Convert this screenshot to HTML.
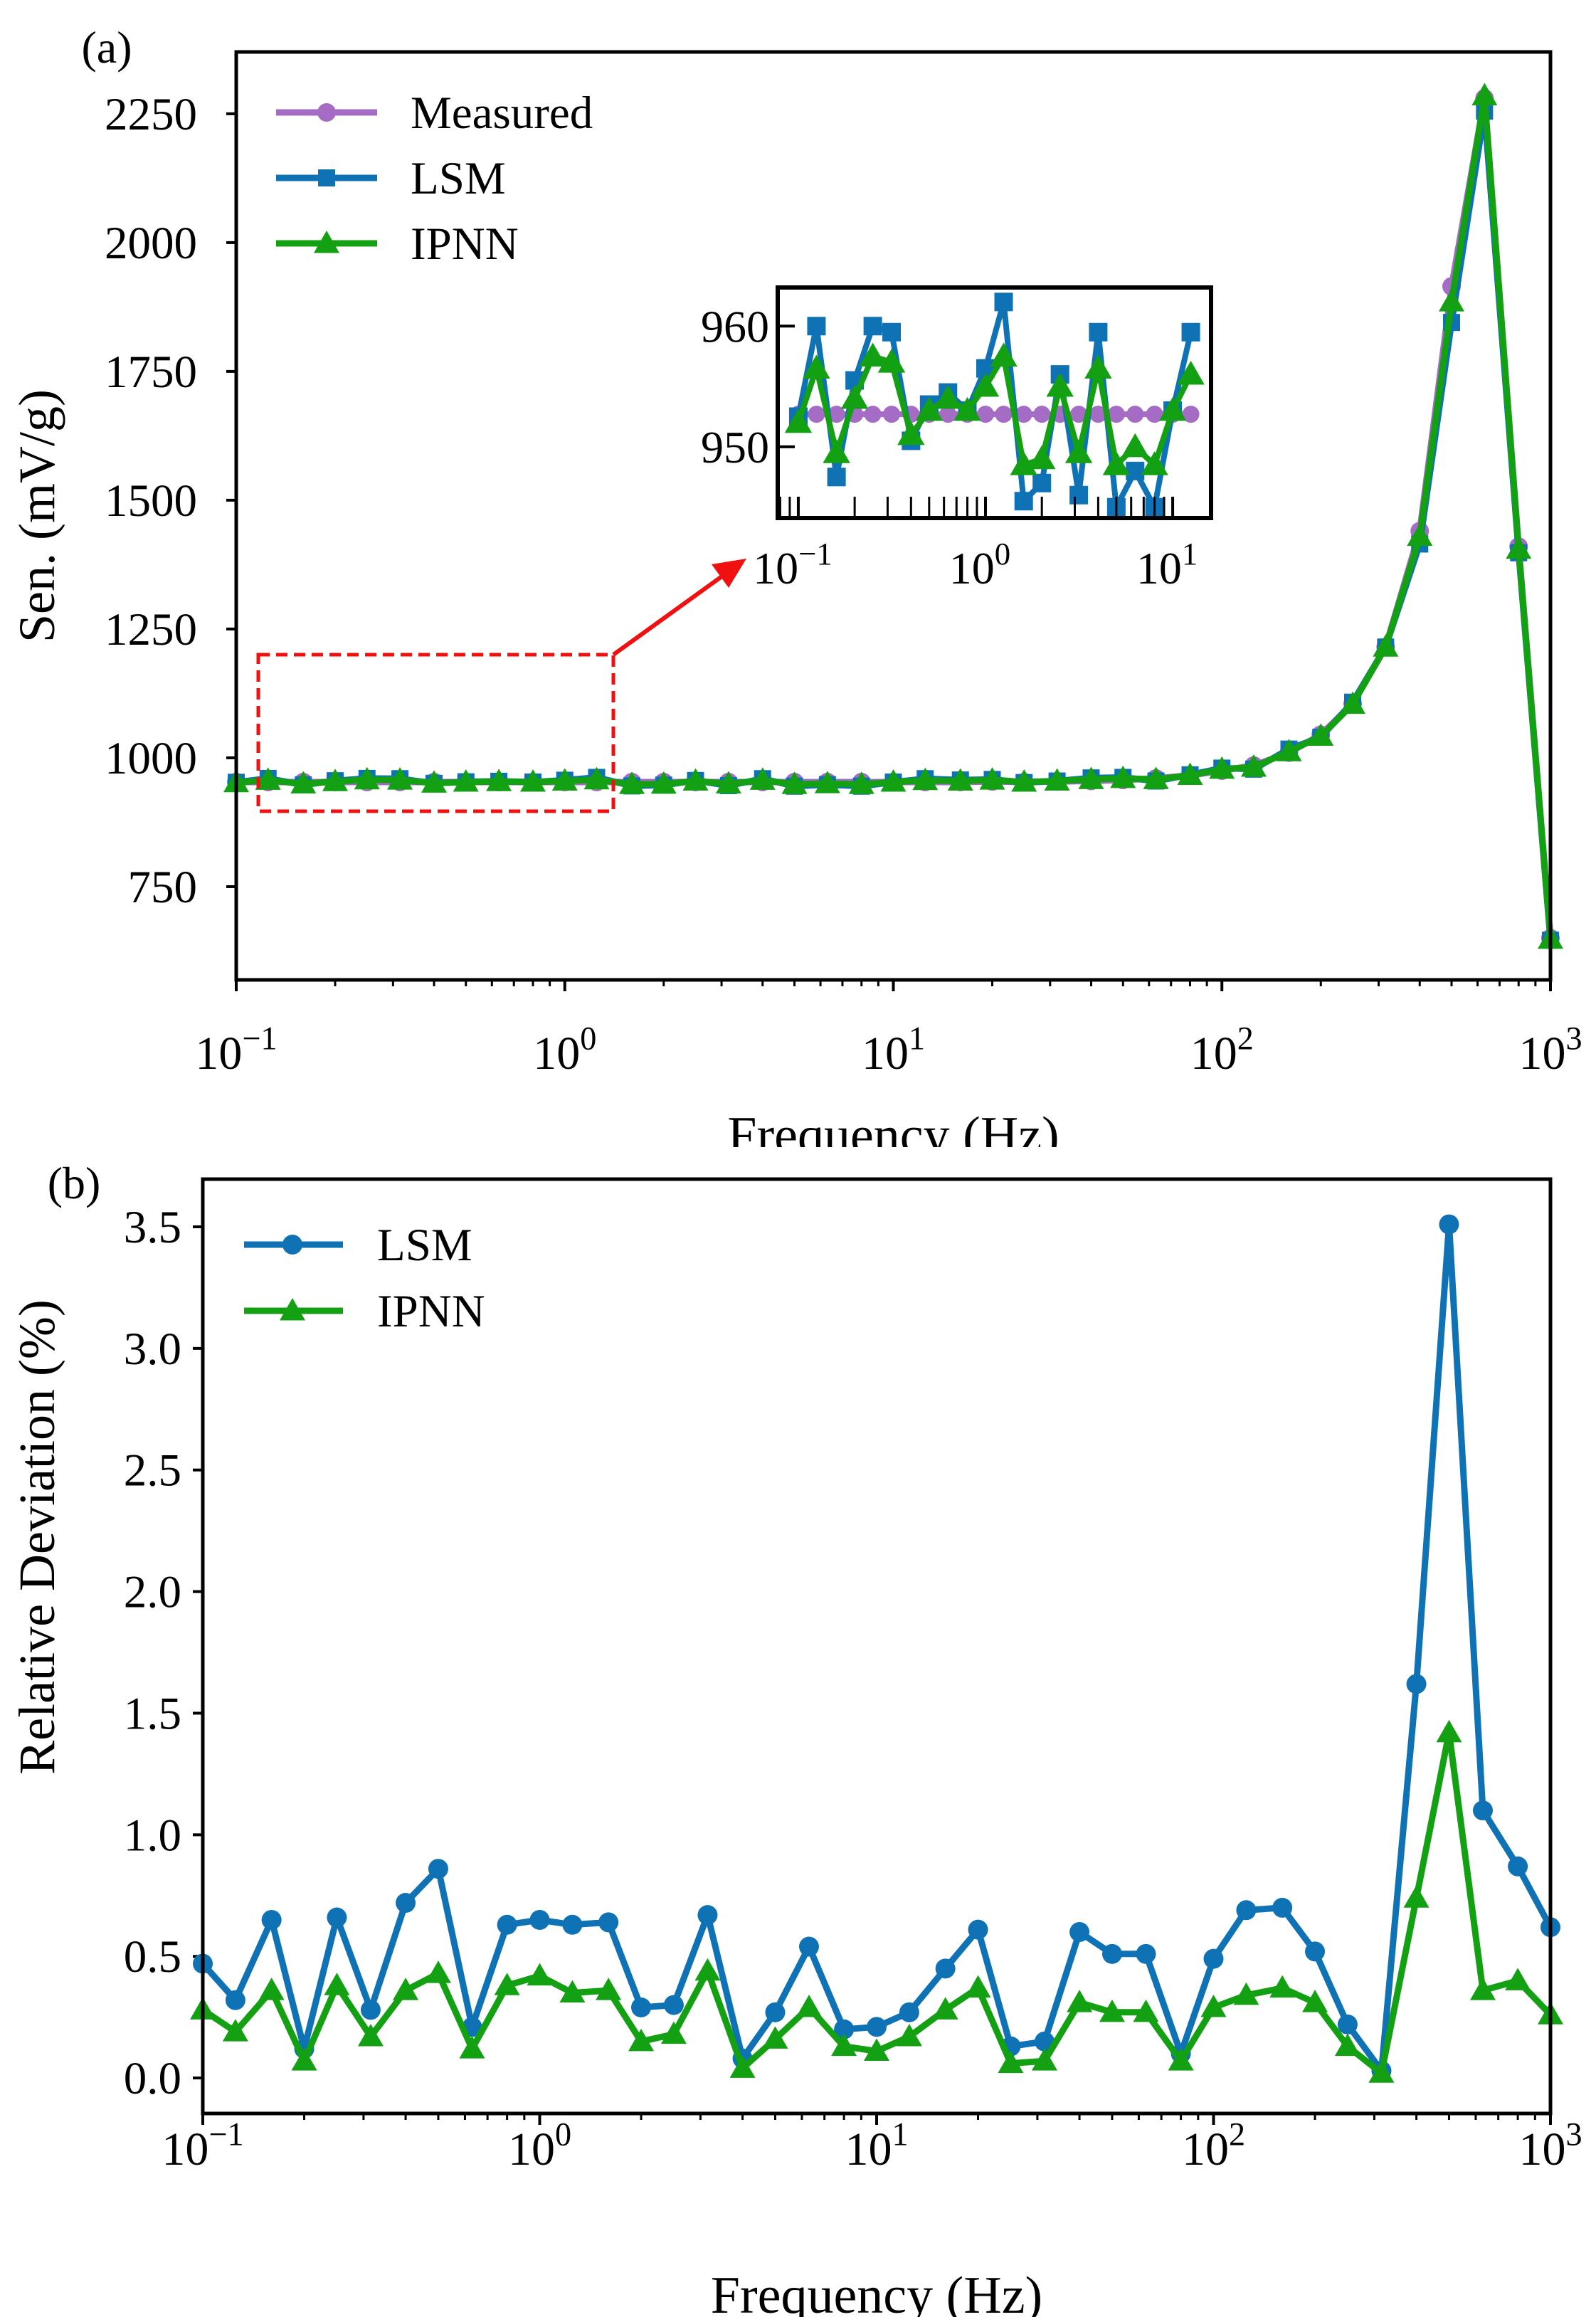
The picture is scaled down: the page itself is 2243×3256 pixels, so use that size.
<!DOCTYPE html>
<html><head><meta charset="utf-8"><style>
html,body{margin:0;padding:0;background:#fff;}
svg{display:block;font-family:"Liberation Serif",serif;}
</style></head><body>
<svg id="fig" width="2243" height="3256" viewBox="0 0 2243 3256" xmlns="http://www.w3.org/2000/svg">
<rect width="2243" height="3256" fill="#fff"/>
<g id="pa"></g>
<rect x="0" y="1612" width="2243" height="1644" fill="#fff"/>
<g id="pb"></g>
</svg>
<script>
const freqs=[0.1,0.125,0.16,0.2,0.25,0.315,0.4,0.5,0.63,0.8,1,1.25,1.6,2,2.5,3.15,4,5,6.3,8,10,12.5,16,20,25,31.5,40,50,63,80,100,125,160,200,250,315,400,500,630,800,1000];
const measuredSen=[953,953,953,953,953,953,953,953,953,953,953,953,953,953,953,953,953,953,953,953,953,953,953,954,953,954,955,957,960,966,975,985,1010,1045,1105,1215,1440,1915,2280,1410,650];
const lsmSen=[952.5,960,947.5,955.5,960,959.5,950.5,953.5,954.5,953,956.5,962,945.5,947,956,946,959.5,945,948,945,953,959.5,957,958,952,955,961,962,955,967,980,978,1017,1040,1108,1215,1415,1845,2255,1398,646];
const ipnnSen=[952,956.5,949.5,954,957.5,957,951,953,954,953,955,957.5,948.5,949,955,949.5,956.5,948.5,950,948.5,953,956,955,957,953,955,958,960,958,966,978,982,1012,1042,1104,1215,1430,1885,2285,1405,648];
const insetN=22;
const lsmDev=[0.47,0.32,0.65,0.12,0.66,0.28,0.72,0.86,0.21,0.63,0.65,0.63,0.64,0.29,0.30,0.67,0.08,0.27,0.54,0.20,0.21,0.27,0.45,0.61,0.13,0.15,0.60,0.51,0.51,0.10,0.49,0.69,0.70,0.52,0.22,0.03,1.62,3.51,1.10,0.87,0.62];
const ipnnDev=[0.28,0.19,0.36,0.07,0.38,0.17,0.36,0.43,0.12,0.38,0.42,0.35,0.36,0.15,0.18,0.44,0.04,0.16,0.29,0.13,0.11,0.17,0.28,0.37,0.06,0.07,0.31,0.27,0.27,0.07,0.29,0.34,0.37,0.31,0.13,0.02,0.74,1.42,0.36,0.40,0.26];
const yTicksA=[750,1000,1250,1500,1750,2000,2250];
const yTicksB=[0,0.5,1.0,1.5,2.0,2.5,3.0,3.5];
const yTicksInset=[950,960];
const decades=[-1,0,1,2,3];
const insetDecades=[-1,0,1];

const NS="http://www.w3.org/2000/svg";
const BLUE="#0e72b5",GREEN="#13a013",PURPLE="#a56cc6";
function mk(tag,attrs,parent){const e=document.createElementNS(NS,tag);for(const k in attrs)e.setAttribute(k,attrs[k]);parent.appendChild(e);return e;}
function axis(x0,x1,lmin,lmax,y0,y1,vmin,vmax){return{x:f=>x0+(Math.log10(f)-lmin)/(lmax-lmin)*(x1-x0),y:v=>y1-(v-vmin)/(vmax-vmin)*(y1-y0)};}
function marker(g,type,x,y,s,col){
  let m;
  if(type==='circle')m=mk('circle',{cx:x,cy:y,r:s/2,fill:col},g);
  else if(type==='square')m=mk('rect',{x:x-s/2,y:y-s/2,width:s,height:s,fill:col},g);
  else m=mk('polygon',{points:`${x},${y-s*0.6} ${x-s*0.6},${y+s*0.45} ${x+s*0.6},${y+s*0.45}`,fill:col},g);
  return m;
}
function series(g,ax,xs,ys,col,type,s,lw,name){
  const sg=mk('g',{},g);
  
  
  const pts=ys.map((v,i)=>ax.x(xs[i]).toFixed(1)+','+ax.y(v).toFixed(1)).join(' ');
  mk('polyline',{points:pts,fill:'none',stroke:col,'stroke-width':lw,'stroke-linejoin':'round'},sg);
  ys.forEach((v,i)=>{const m=marker(sg,type,ax.x(xs[i]),ax.y(v),s,col);
    
    });
}
function powLabel(g,x,y,exp,fs,name){
  const t=mk('text',{x:x,y:y,'font-size':fs,'text-anchor':'middle'},g);
  
  
  t.textContent='10';
  const sp=mk('tspan',{dy:-fs*0.42,'font-size':fs*0.7},t);
  sp.textContent=exp<0?'\u2212'+(-exp):String(exp);
}
function text(g,x,y,s,fs,anchor,name,extra){
  const t=mk('text',Object.assign({x:x,y:y,'font-size':fs,'text-anchor':anchor},extra||{}),g);
  
  
  t.textContent=s;return t;
}
function logTicks(g,ax,lmin,lmax,yb,inward,majLen,minLen){
  for(let d=Math.floor(lmin);d<=Math.ceil(lmax);d++){
    for(let k=1;k<10;k++){
      const lv=d+Math.log10(k);
      if(lv<lmin-1e-9||lv>lmax+1e-9)continue;
      const x=ax.x(Math.pow(10,lv));const len=k===1?majLen:minLen;
      mk('line',{x1:x,x2:x,y1:yb,y2:inward?yb-len:yb+len,stroke:'#000','stroke-width':k===1?4:3},g);
    }
  }
}

// ---------- Panel A ----------
const pa=document.getElementById('pa');
const AX0=332,AX1=2179,AY0=73,AY1=1377;
const axA=axis(AX0,AX1,-1,3,AY0,AY1,569,2370);
text(pa,150,88,'(a)',64,'middle','panel-a-label');
yTicksA.forEach(v=>{const y=axA.y(v);
  mk('line',{x1:AX0-14,x2:AX0,y1:y,y2:y,stroke:'#000','stroke-width':4},pa);
  text(pa,AX0-55,y+22,String(v),65,'end','y-tick-label-a');});
logTicks(pa,axA,-1,3,AY1,false,16,9);
decades.forEach(d=>powLabel(pa,axA.x(Math.pow(10,d)),AY1+125,d,66,'x-tick-label-a'));
text(pa,76,725,'Sen. (mV/g)',72,'middle','y-axis-title-a',{transform:'rotate(-90 76 725)'});
text(pa,axA.x(10),1620,'Frequency (Hz)',74,'middle','x-axis-title-a');
const dA=mk('g',{},pa);


series(dA,axA,freqs,measuredSen,PURPLE,'circle',26,9,'series-measured');
series(dA,axA,freqs,lsmSen,BLUE,'square',24,9,'series-lsm');
series(dA,axA,freqs,ipnnSen,GREEN,'triangle',30,9,'series-ipnn');
mk('rect',{x:AX0,y:AY0,width:AX1-AX0,height:AY1-AY0,fill:'none',stroke:'#000','stroke-width':5},pa);
const zb=mk('rect',{x:363,y:920,width:499,height:220,fill:'none',stroke:'#f01010','stroke-width':5,'stroke-dasharray':'16 9'},pa);

const ar=mk('g',{},pa);
mk('line',{x1:862,y1:920,x2:1020,y2:806,stroke:'#f01010','stroke-width':6},ar);
mk('polygon',{points:'1049,785 1000,793 1024,826',fill:'#f01010'},ar);
const lgA=mk('g',{},pa);
[['Measured',PURPLE,'circle',26],['LSM',BLUE,'square',24],['IPNN',GREEN,'triangle',30]].forEach((e,i)=>{
  const y=158+i*92;
  const le=mk('g',{},lgA);
  mk('line',{x1:388,x2:530,y1:y,y2:y,stroke:e[1],'stroke-width':9},le);
  marker(le,e[2],459,y,e[3],e[1]);
  text(le,577,y+22,e[0],65,'start','legend-text');
});
const IX0=1093,IX1=1702,IY0=404,IY1=728;
const ins=mk('g',{},pa);
mk('rect',{x:IX0,y:IY0,width:IX1-IX0,height:IY1-IY0,fill:'#fff'},ins);
const axI=axis(IX0,IX1,-1.11,1.205,IY0,IY1,944.1,963.2);
const cp=mk('clipPath',{id:'insclip'},ins);mk('rect',{x:IX0,y:IY0,width:IX1-IX0,height:IY1-IY0},cp);
const insD=mk('g',{'clip-path':'url(#insclip)'},ins);

const fI=freqs.slice(0,insetN);
series(insD,axI,fI,measuredSen.slice(0,insetN).map(v=>v-0.3),PURPLE,'circle',24,8,'inset-series-measured');
series(insD,axI,fI,lsmSen.slice(0,insetN),BLUE,'square',26,8,'inset-series-lsm');
series(insD,axI,fI,ipnnSen.slice(0,insetN),GREEN,'triangle',32,8,'inset-series-ipnn');
logTicks(ins,axI,-1.11,1.205,IY1,true,30,30);
yTicksInset.forEach(v=>{const y=axI.y(v);
  mk('line',{x1:IX0,x2:IX0+24,y1:y,y2:y,stroke:'#000','stroke-width':4},ins);
  text(ins,IX0-12,y+22,String(v),64,'end','inset-y-tick-label');});
insetDecades.forEach(d=>powLabel(ins,axI.x(Math.pow(10,d))-8,IY1+92,d,64,'inset-x-tick-label'));
mk('rect',{x:IX0,y:IY0,width:IX1-IX0,height:IY1-IY0,fill:'none',stroke:'#000','stroke-width':6},ins);

// ---------- Panel B ----------
const pb=document.getElementById('pb');
const BX0=285,BX1=2179,BY0=1657,BY1=2970;
const axB=axis(BX0,BX1,-1,3,BY0,BY1,-0.146,3.696);
text(pb,104,1684,'(b)',64,'middle','panel-b-label');
yTicksB.forEach(v=>{const y=axB.y(v);
  mk('line',{x1:BX0-14,x2:BX0,y1:y,y2:y,stroke:'#000','stroke-width':4},pb);
  text(pb,BX0-30,y+22,v.toFixed(1),65,'end','y-tick-label-b');});
logTicks(pb,axB,-1,3,BY1,false,16,9);
decades.forEach(d=>powLabel(pb,axB.x(Math.pow(10,d)),BY1+72,d,66,'x-tick-label-b'));
text(pb,76,2160,'Relative Deviation (%)',72,'middle','y-axis-title-b',{transform:'rotate(-90 76 2160)'});
text(pb,axB.x(10),3250,'Frequency (Hz)',74,'middle','x-axis-title-b');
const dB=mk('g',{},pb);
series(dB,axB,freqs,lsmDev,BLUE,'circle',28,9,'series-lsm-deviation');
series(dB,axB,freqs,ipnnDev,GREEN,'triangle',30,9,'series-ipnn-deviation');
mk('rect',{x:BX0,y:BY0,width:BX1-BX0,height:BY1-BY0,fill:'none',stroke:'#000','stroke-width':5},pb);
const lgB=mk('g',{},pb);
[['LSM',BLUE,'circle',28],['IPNN',GREEN,'triangle',30]].forEach((e,i)=>{
  const y=1749+i*93;
  const le=mk('g',{},lgB);
  mk('line',{x1:343,x2:482,y1:y,y2:y,stroke:e[1],'stroke-width':9},le);
  marker(le,e[2],411,y,e[3],e[1]);
  text(le,530,y+22,e[0],65,'start','legend-text');
});
</script>
</body></html>
